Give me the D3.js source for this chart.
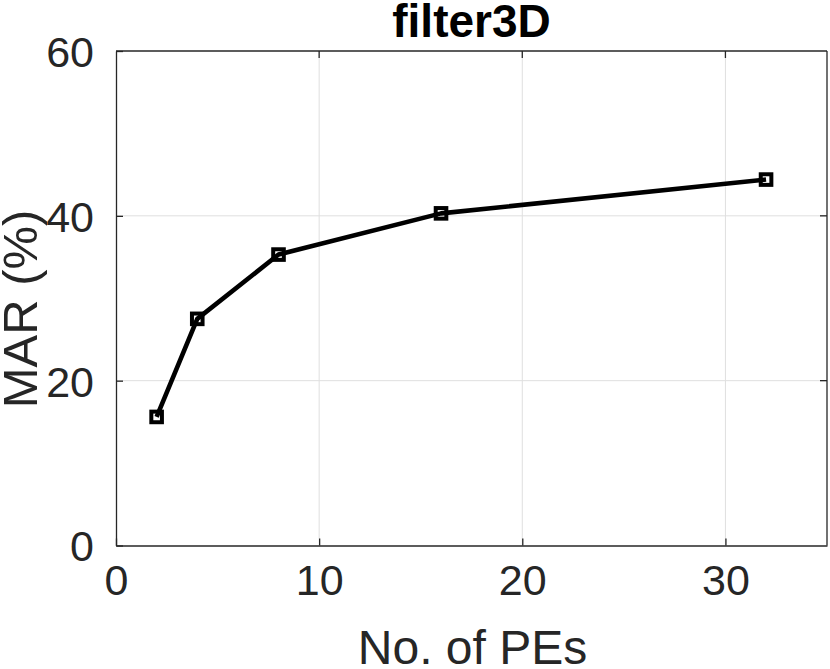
<!DOCTYPE html>
<html>
<head>
<meta charset="utf-8">
<script src="https://cdn.jsdelivr.net/npm/d3@7"></script>
<style>
  body { margin: 0; background: #fff; }
  svg { display: block; }
  text { font-family: "Liberation Sans", Arial, Helvetica, sans-serif; fill: #262626; }
</style>
</head>
<body>
<svg id="chart" width="830" height="669"></svg>
<script>
const titleText = "filter3D";
const xLabel = "No. of PEs";
const yLabel = "MAR (%)";

const pes = [2, 4, 8, 16, 32];
const mar = [15.6, 27.5, 35.3, 40.3, 44.4];

const xTicks = [0, 10, 20, 30];
const yTicks = [0, 20, 40, 60];

const padL = 116, padR = 827, padT = 51, padB = 545.5;
const svg = d3.select("#chart");

const x = d3.scaleLinear().domain([0, 35]).range([padL, padR]);
const y = d3.scaleLinear().domain([0, 60]).range([padB, padT]);

// grid
svg.append("g").selectAll("line").data(xTicks.slice(1)).enter().append("line")
  .attr("x1", d => x(d)).attr("x2", d => x(d))
  .attr("y1", padT).attr("y2", padB)
  .attr("stroke", "#dfdfdf").attr("stroke-width", 1);
svg.append("g").selectAll("line").data(yTicks.slice(1, -1)).enter().append("line")
  .attr("x1", padL).attr("x2", padR)
  .attr("y1", d => y(d)).attr("y2", d => y(d))
  .attr("stroke", "#dfdfdf").attr("stroke-width", 1);

// axes (ticks inward, like matlab)
const xAxis = d3.axisBottom(x).tickValues(xTicks).tickSize(-7).tickPadding(19).tickSizeOuter(0);
const yAxis = d3.axisLeft(y).tickValues(yTicks).tickSize(-7).tickPadding(22).tickSizeOuter(0);

const gx = svg.append("g").attr("transform", `translate(0,${padB})`).call(xAxis);
const gy = svg.append("g").attr("transform", `translate(${padL},0)`).call(yAxis);
[gx, gy].forEach(g => {
  g.select(".domain").attr("stroke", "#262626").attr("stroke-width", 1.3);
  g.selectAll(".tick line").attr("stroke", "#262626").attr("stroke-width", 1.3);
  g.selectAll(".tick text").attr("font-size", 43).attr("fill", "#262626")
    .style("font-family", "'Liberation Sans', Arial, sans-serif");
});
gy.selectAll(".tick text").attr("dy", "0.36em");
gx.selectAll(".tick text").attr("dy", "0.71em");

// box top/right
svg.append("line").attr("x1", padL).attr("x2", padR).attr("y1", padT).attr("y2", padT)
  .attr("stroke", "#262626").attr("stroke-width", 1.3);
svg.append("line").attr("x1", padR).attr("x2", padR).attr("y1", padT).attr("y2", padB)
  .attr("stroke", "#262626").attr("stroke-width", 1.3);
// top/right ticks
svg.append("g").selectAll("line").data(xTicks.slice(1)).enter().append("line")
  .attr("x1", d => x(d)).attr("x2", d => x(d)).attr("y1", padT).attr("y2", padT + 7)
  .attr("stroke", "#262626").attr("stroke-width", 1.3);
svg.append("g").selectAll("line").data(yTicks.slice(1, -1)).enter().append("line")
  .attr("x1", padR).attr("x2", padR - 7).attr("y1", d => y(d)).attr("y2", d => y(d))
  .attr("stroke", "#262626").attr("stroke-width", 1.3);

// series
const pts = pes.map((p, i) => [p, mar[i]]);
svg.append("path").datum(pts)
  .attr("d", d3.line().x(d => x(d[0])).y(d => y(d[1])))
  .attr("fill", "none").attr("stroke", "#000").attr("stroke-width", 4.6)
  .attr("stroke-linejoin", "round");
svg.append("g").selectAll("rect").data(pts).enter().append("rect")
  .attr("x", d => x(d[0]) - 5.3).attr("y", d => y(d[1]) - 5.3)
  .attr("width", 10.6).attr("height", 10.6)
  .attr("fill", "none").attr("stroke", "#000").attr("stroke-width", 4);

// labels
svg.append("text").attr("x", (padL + padR) / 2).attr("y", 37)
  .attr("text-anchor", "middle").attr("font-size", 46).attr("font-weight", "bold")
  .style("fill", "#000").text(titleText);
svg.append("text").attr("x", (padL + padR) / 2 + 1).attr("y", 664)
  .attr("text-anchor", "middle").attr("font-size", 48).text(xLabel);
svg.append("text").attr("transform", `translate(37,309) rotate(-90)`)
  .attr("text-anchor", "middle").attr("font-size", 49).text(yLabel);
</script>
</body>
</html>
